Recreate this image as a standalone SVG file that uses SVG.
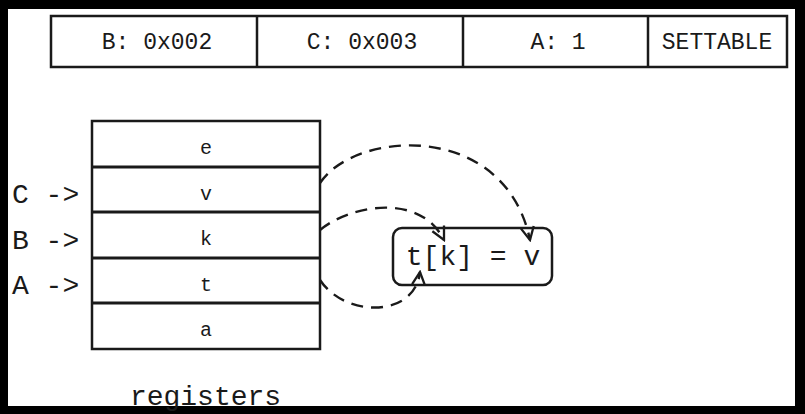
<svg xmlns="http://www.w3.org/2000/svg" width="805" height="414" viewBox="0 0 805 414">
<defs>
<style>
.ln{fill:none;stroke:#1a1a1a;stroke-width:2.5}
.row{stroke:#1a1a1a;stroke-width:3.2}
.t{font-family:"Liberation Mono","DejaVu Sans Mono",monospace;fill:#1a1a1a}
.tb{font-size:23px;text-anchor:middle}
.cell{font-size:20px;text-anchor:middle}
.big{font-size:28px}
.dash{fill:none;stroke:#1a1a1a;stroke-width:2.4;stroke-dasharray:12 8}
</style>
<marker id="ah" viewBox="0 0 16 16" refX="14" refY="8" markerWidth="16" markerHeight="16" markerUnits="userSpaceOnUse" orient="auto">
<path d="M1,1.5 L14,8 L1,14.5" fill="none" stroke="#1a1a1a" stroke-width="2.3"/>
</marker>
</defs>
<rect x="0" y="0" width="805" height="414" fill="#000"/>
<rect x="8" y="9" width="787" height="397" fill="#fff"/>

<g id="table">
<rect class="ln" x="51" y="16" width="736" height="51"/>
<line class="ln" x1="257" y1="16" x2="257" y2="67"/>
<line class="ln" x1="463" y1="16" x2="463" y2="67"/>
<line class="ln" x1="648" y1="16" x2="648" y2="67"/>
<text class="t tb" x="157" y="49">B: 0x002</text>
<text class="t tb" x="362" y="49">C: 0x003</text>
<text class="t tb" x="558" y="49">A: 1</text>
<text class="t tb" x="717" y="49">SETTABLE</text>
</g>

<g id="registers">
<rect class="ln" x="92" y="121" width="228" height="228"/>
<line class="row" x1="92" y1="167" x2="320" y2="167"/>
<line class="row" x1="92" y1="212" x2="320" y2="212"/>
<line class="row" x1="92" y1="258" x2="320" y2="258"/>
<line class="row" x1="92" y1="303" x2="320" y2="303"/>
<text class="t cell" x="206" y="154">e</text>
<text class="t cell" x="206" y="199.5">v</text>
<text class="t cell" x="206" y="245">k</text>
<text class="t cell" x="206" y="290.5">t</text>
<text class="t cell" x="206" y="336">a</text>
<text class="t big" x="205.5" y="405" text-anchor="middle">registers</text>
</g>

<g id="labels">
<text class="t big" x="12" y="203">C -&gt;</text>
<text class="t big" x="12" y="248.5">B -&gt;</text>
<text class="t big" x="12" y="294">A -&gt;</text>
</g>

<g id="stmt">
<rect class="ln" x="393" y="228" width="159" height="57" rx="9" ry="9"/>
<text class="t big" x="473" y="265" text-anchor="middle">t[k] = v</text>
</g>

<g id="connectors">
<path class="dash" d="M320,183 C355,130 505,120 530,240" marker-end="url(#ah)"/>
<path class="dash" d="M320,230 C350,205 420,192 444,240" marker-end="url(#ah)"/>
<path class="dash" d="M320,280 C345,318 415,318 420,272" marker-end="url(#ah)"/>
</g>
</svg>
